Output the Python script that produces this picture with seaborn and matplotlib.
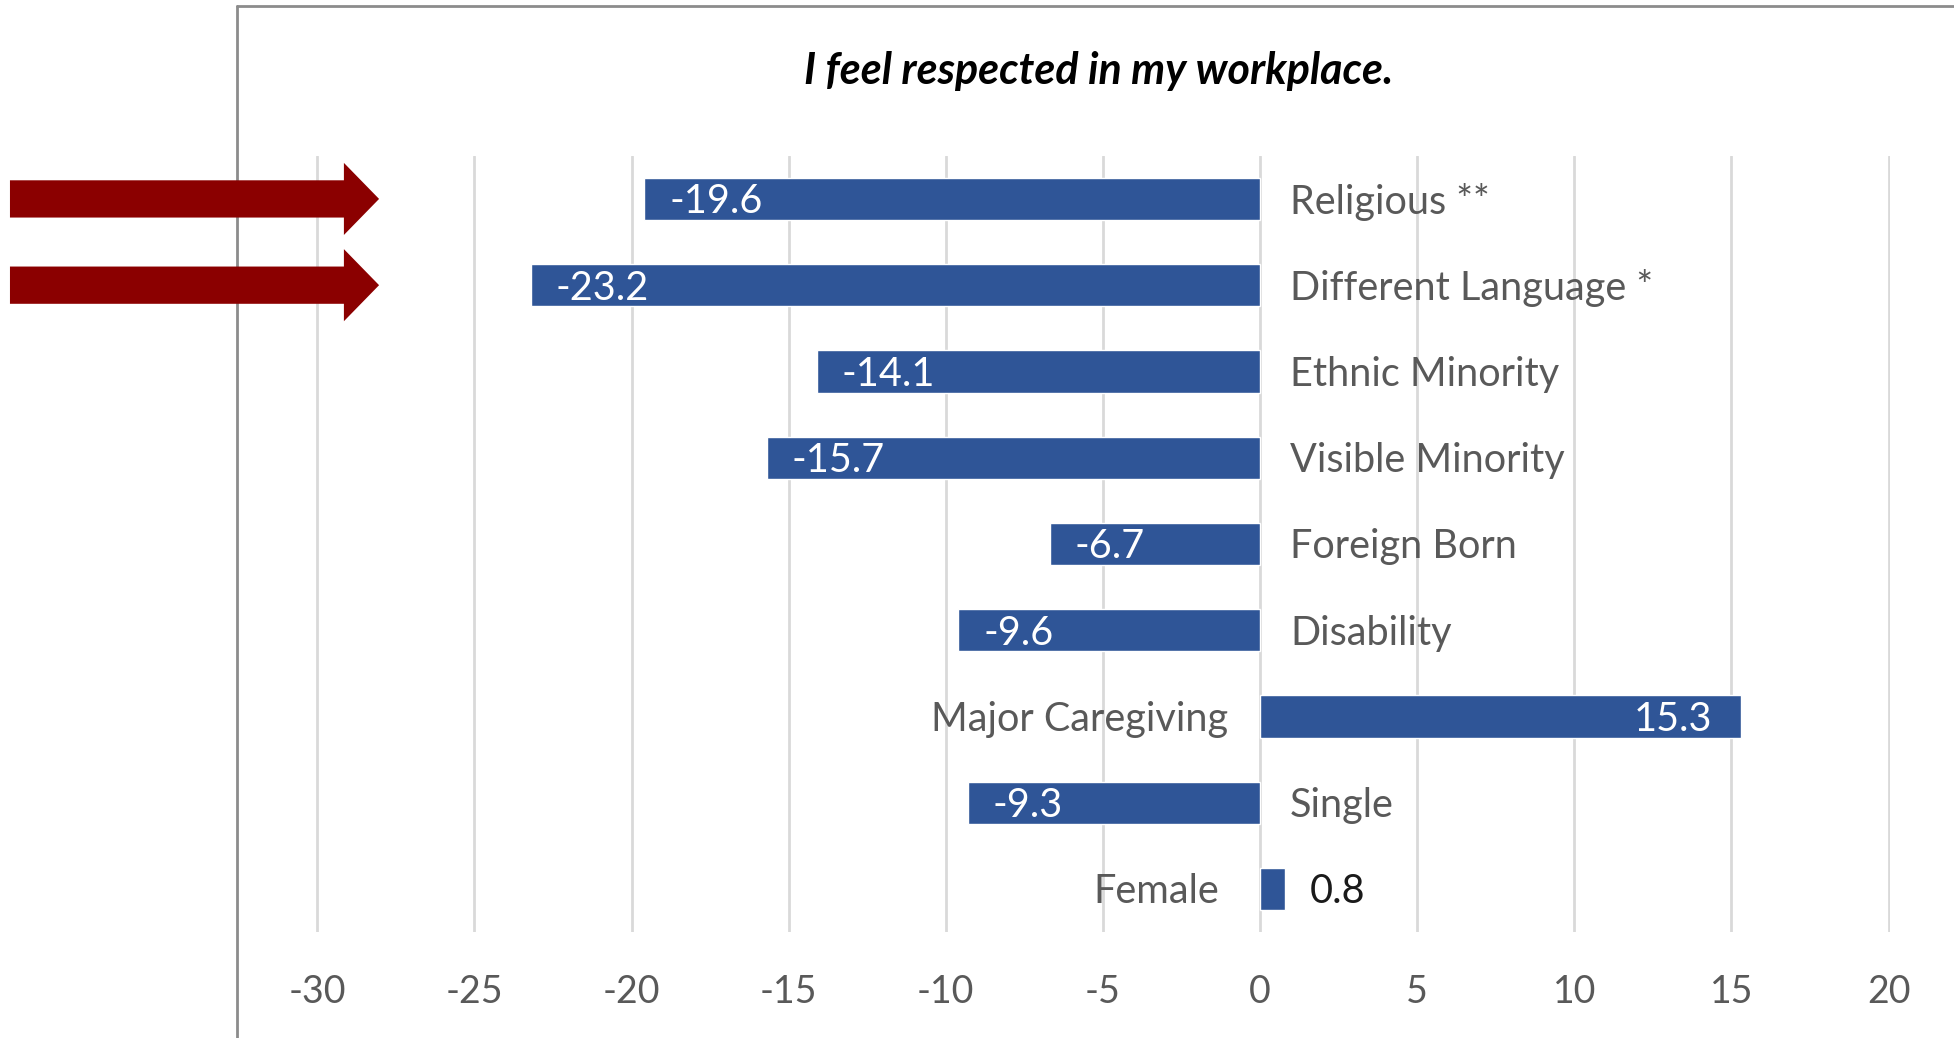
import matplotlib
matplotlib.use("Agg")
import matplotlib.pyplot as plt
import matplotlib.transforms as mtransforms
from matplotlib.patches import Polygon
from matplotlib.lines import Line2D
import pandas as pd
import seaborn as sns

# Survey gaps by group
categories = ["Religious **", "Different Language *", "Ethnic Minority", "Visible Minority",
              "Foreign Born", "Disability", "Major Caregiving", "Single", "Female"]
values = [-19.6, -23.2, -14.1, -15.7, -6.7, -9.6, 15.3, -9.3, 0.8]
highlighted = ["Religious **", "Different Language *"]
x_ticks = [-30, -25, -20, -15, -10, -5, 0, 5, 10, 15, 20]
title = "I feel respected in my workplace."

df = pd.DataFrame({"group": categories, "gap": values})

sns.set_style("white")
plt.rcParams["font.family"] = ["Lato", "DejaVu Sans"]

BAR = "#2F5597"
GRID = "#D9D9D9"
LABEL = "#595959"
FS = 28.5
DY = -3  # nudge labels down slightly (pixels)

fig = plt.figure(figsize=(19.54, 10.38), dpi=100)
ax = fig.add_axes([0.1614, 0.1021, 0.8061, 0.7478])

sns.barplot(data=df, x="gap", y="group", orient="h", color=BAR,
            width=0.49, saturation=1, ax=ax, zorder=3)

ax.set_xlim(-30.06, 20.06)
ax.set_ylim(len(categories) - 0.5, -0.5)
ax.set_xticks(x_ticks)
ax.set_xticklabels([str(t) for t in x_ticks])
ax.set_yticks([])
ax.set_xlabel("")
ax.set_ylabel("")
ax.grid(axis="x", color=GRID, linewidth=2, zorder=0)
ax.grid(axis="y", visible=False)
for s in ax.spines.values():
    s.set_visible(False)
ax.tick_params(axis="x", length=0, pad=30, labelsize=27, labelcolor=LABEL)

# Value and category labels beside each bar
for i, (cat, v) in enumerate(zip(categories, values)):
    txt = f"{v:.1f}"
    if v < 0:
        ax.annotate(txt, (v, i), xytext=(25, DY), textcoords="offset pixels",
                    ha="left", va="center", color="white", fontsize=FS, zorder=4)
        ax.annotate(cat, (0, i), xytext=(30, DY), textcoords="offset pixels",
                    ha="left", va="center", color=LABEL, fontsize=FS)
    elif v > 5:
        ax.annotate(txt, (v, i), xytext=(-29, DY), textcoords="offset pixels",
                    ha="right", va="center", color="white", fontsize=FS, zorder=4)
        ax.annotate(cat, (0, i), xytext=(-32, DY), textcoords="offset pixels",
                    ha="right", va="center", color=LABEL, fontsize=FS)
    else:
        ax.annotate(txt, (v, i), xytext=(25, DY), textcoords="offset pixels",
                    ha="left", va="center", color="#1A1A1A", fontsize=FS)
        ax.annotate(cat, (0, i), xytext=(-41, DY), textcoords="offset pixels",
                    ha="right", va="center", color=LABEL, fontsize=FS)

fig.text(0.5625, 0.932, title, ha="center", va="center", fontsize=31,
         fontweight="bold", fontstyle="italic", color="black")

# Pointer arrows for the highlighted groups
blend = mtransforms.blended_transform_factory(fig.transFigure, ax.transData)
x0, xb, xt = 0.0051, 0.176, 0.194
shaft, head = 0.216, 0.418
for cat in highlighted:
    y = categories.index(cat)
    pts = [(x0, y - shaft), (xb, y - shaft), (xb, y - head), (xt, y),
           (xb, y + head), (xb, y + shaft), (x0, y + shaft)]
    fig.add_artist(Polygon(pts, closed=True, transform=blend,
                           facecolor="#8B0000", edgecolor="none", zorder=5))

# Chart frame (left and top edges)
fx = 236.8 / 1954
fy = 1 - 6 / 1038
fig.add_artist(Line2D([fx, fx], [0, fy], transform=fig.transFigure, color="#8C8C8C", linewidth=2))
fig.add_artist(Line2D([fx, 1], [fy, fy], transform=fig.transFigure, color="#8C8C8C", linewidth=2))

fig.savefig("out.png", dpi=100, facecolor="white")
